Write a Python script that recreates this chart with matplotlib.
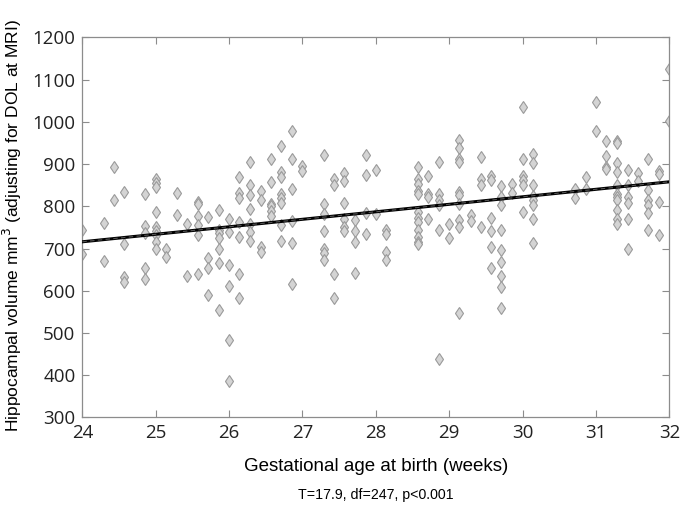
import numpy as np
import matplotlib
matplotlib.use('Agg')
import matplotlib.pyplot as plt

# gestational age (weeks) and hippocampal volumes observed at that age
ages = [24.00, 24.29, 24.43, 24.57, 24.86, 25.00, 25.14, 25.29, 25.43, 25.57,
        25.71, 25.86, 26.00, 26.14, 26.29, 26.43, 26.57, 26.71, 26.86, 27.00,
        27.29, 27.43, 27.57, 27.71, 27.86, 28.00, 28.14, 28.57, 28.71, 28.86,
        29.00, 29.14, 29.29, 29.43, 29.57, 29.71, 29.86, 30.00, 30.14, 30.71,
        30.86, 31.00, 31.14, 31.29, 31.43, 31.57, 31.71, 31.86, 32.00]
vols = [
    [744, 688], [761, 671], [894, 815], [833, 710, 633, 621],
    [829, 754, 737, 655, 628], [864, 856, 845, 787, 751, 741, 732, 716, 698],
    [700, 680], [831, 779], [758, 634], [811, 805, 777, 755, 732, 639],
    [774, 677, 653, 590], [791, 744, 736, 726, 700, 665, 554],
    [771, 738, 661, 611, 483, 387], [870, 832, 819, 763, 728, 639, 582],
    [905, 850, 826, 793, 757, 740, 718], [836, 815, 704, 692],
    [911, 857, 805, 800, 789, 777], [943, 882, 870, 830, 819, 807, 755, 718],
    [978, 913, 842, 766, 712, 616], [895, 884],
    [921, 805, 781, 741, 700, 690, 674], [864, 850, 639, 582],
    [878, 861, 808, 771, 752, 741], [767, 741, 715, 643], [921, 874, 785, 734],
    [887, 781], [745, 734, 692, 672],
    [892, 864, 853, 836, 830, 787, 773, 763, 744, 728, 716, 710],
    [872, 830, 822, 771], [905, 830, 816, 803, 744, 438], [759, 726],
    [957, 937, 913, 905, 834, 826, 805, 767, 751, 548], [779, 766],
    [916, 865, 850, 751], [871, 862, 773, 741, 703, 655],
    [848, 822, 803, 744, 696, 667, 636, 608, 560], [853, 832],
    [1034, 913, 871, 862, 850, 787], [925, 903, 850, 824, 816, 803, 771, 712],
    [840, 819], [870, 840], [1046, 979], [954, 919, 892, 888],
    [954, 949, 902, 882, 850, 830, 822, 815, 791, 771, 757],
    [886, 850, 821, 807, 769, 699], [878, 861],
    [911, 838, 815, 803, 783, 745], [884, 876, 811, 732], [1124, 1003]]

fit_x = [24, 32]
fit_y = [716, 858]

xticks = [24, 25, 26, 27, 28, 29, 30, 31, 32]
yticks = [300, 400, 500, 600, 700, 800, 900, 1000, 1100, 1200]

x = []
y = []
for a, vs in zip(ages, vols):
    for v in vs:
        x.append(a)
        y.append(v)

fig = plt.figure(figsize=(6.81, 5.05), dpi=100)
ax = fig.add_axes([0.1209, 0.1733, 0.862, 0.7527])

ax.plot(x, y, linestyle='none', marker='d', ms=6.2, mfc='#d4d4d4',
        mec='#9a9a9a', mew=0.8, zorder=2)
ax.plot(fit_x, fit_y, color='black', lw=2.2, zorder=3)
ax.plot(fit_x, fit_y, color='#555555', lw=0.8, ls=(0, (4, 3)), zorder=4)

ax.set_xlim(24, 32)
ax.set_ylim(300, 1200)
ax.set_xticks(xticks)
ax.set_yticks(yticks)
for s in ax.spines.values():
    s.set_color('#8c8c8c')
    s.set_linewidth(0.9)
ax.tick_params(direction='in', length=5, width=0.8, color='#8c8c8c',
               top=True, right=True, labelsize=13.5, labelcolor='#222222',
               pad=5)
for lab in ax.get_xticklabels() + ax.get_yticklabels():
    lab.set_family('Open Sans')

ax.set_xlabel('Gestational age at birth (weeks)', family='Liberation Sans',
              fontsize=13.5, labelpad=11)
fig.text(12 / 681, 1 - 226 / 505,
         'Hippocampal volume mm$^3$ (adjusting for DOL at MRI)',
         family='Liberation Sans', fontsize=12.5, rotation=90,
         ha='center', va='center')
fig.text(0.552, 1 - 495.5 / 505, 'T=17.9, df=247, p<0.001', ha='center',
         va='center', family='Liberation Sans', fontsize=10.2)

fig.savefig('out.png', dpi=100)
